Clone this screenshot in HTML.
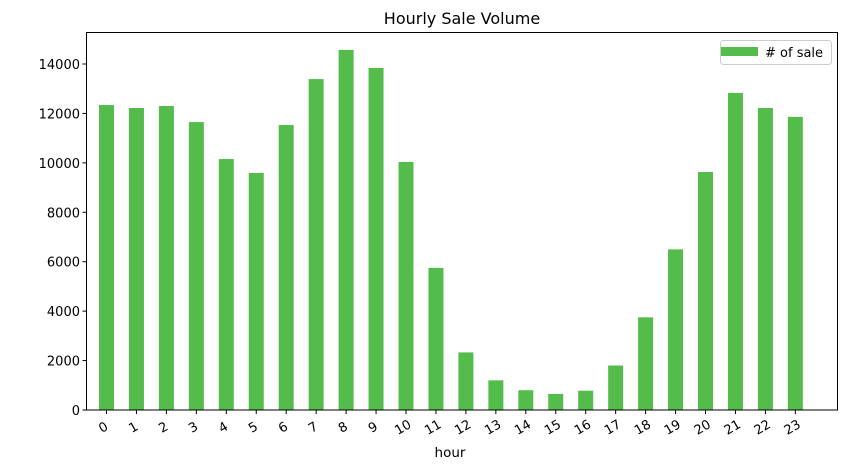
<!DOCTYPE html>
<html><head><meta charset="utf-8"><style>
body{margin:0;background:#fff;}
svg text{font-family:"DejaVu Sans","Liberation Sans",sans-serif;fill:#000;}
</style></head><body>
<svg id="chart" width="848" height="470" xmlns="http://www.w3.org/2000/svg">
<text x="462" y="24" font-size="16" text-anchor="middle">Hourly Sale Volume</text>
<g id="bars"></g>
<g id="yticks"></g>
<g id="xticks"></g>
<rect x="86.5" y="32.5" width="751" height="377.5" fill="none" stroke="#000" stroke-width="1"/>
<text x="450" y="457" font-size="13.5" text-anchor="middle">hour</text>
<g>
<rect x="720.5" y="40.5" width="111" height="24" rx="3" fill="#fff" stroke="#ccc"/>
<rect x="721" y="47" width="37" height="9" fill="#54bc4b"/>
<text x="765" y="57" font-size="13">
# of sale</text>
</g>
</svg>
<script>
const categories = ["0","1","2","3","4","5","6","7","8","9","10","11","12","13","14","15","16","17","18","19","20","21","22","23"];
const sales = [12340,12220,12300,11650,10155,9590,11530,13390,14570,13840,10035,5750,2330,1200,800,650,780,1800,3750,6500,9630,12830,12220,11860];
const yTicks = [0,2000,4000,6000,8000,10000,12000,14000];
const NS="http://www.w3.org/2000/svg";
const y0=410, pxPerUnit=346/14000;
function yScale(v){return y0-v*pxPerUnit;}
function xScale(i){return 106.5+i*29.95;}
const bw=15;
const bars=document.getElementById('bars');
sales.forEach((v,i)=>{
  const r=document.createElementNS(NS,'rect');
  r.setAttribute('x',xScale(i)-bw/2);
  r.setAttribute('y',yScale(v));
  r.setAttribute('width',bw);
  r.setAttribute('height',y0-yScale(v));
  r.setAttribute('fill','#54bc4b');
  
  
  bars.appendChild(r);
});
const yt=document.getElementById('yticks');
yTicks.forEach(t=>{
  const y=yScale(t);
  const l=document.createElementNS(NS,'line');
  l.setAttribute('x1',82.5);l.setAttribute('x2',86.5);l.setAttribute('y1',y);l.setAttribute('y2',y);l.setAttribute('stroke','#000');
  
  
  yt.appendChild(l);
  const tx=document.createElementNS(NS,'text');
  tx.setAttribute('x',80);tx.setAttribute('y',y+5);tx.setAttribute('font-size','13');tx.setAttribute('text-anchor','end');
  tx.textContent=t;
  
  
  yt.appendChild(tx);
});
const xt=document.getElementById('xticks');
categories.forEach((c,i)=>{
  const x=xScale(i);
  const l=document.createElementNS(NS,'line');
  l.setAttribute('x1',x);l.setAttribute('x2',x);l.setAttribute('y1',410);l.setAttribute('y2',414);l.setAttribute('stroke','#000');
  
  
  xt.appendChild(l);
  const tx=document.createElementNS(NS,'text');
  tx.setAttribute('font-size','13');tx.setAttribute('text-anchor','middle');
  tx.setAttribute('transform','translate('+(x-1)+',431) rotate(-30)');
  tx.textContent=c;
  
  
  xt.appendChild(tx);
});
</script>
</body></html>
